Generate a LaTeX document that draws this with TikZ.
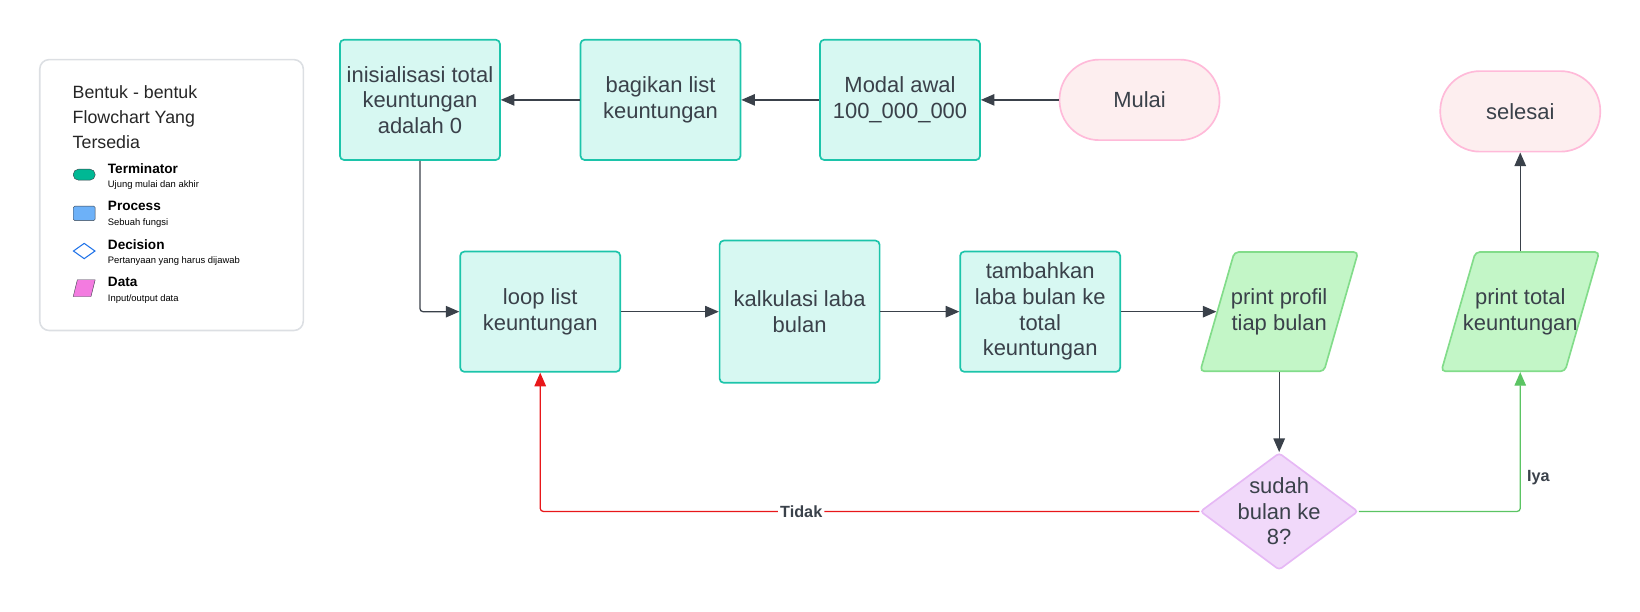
\documentclass[tikz,border=0pt]{standalone}
\usepackage{fontspec}
\setmainfont{Liberation Sans}
\usetikzlibrary{arrows.meta,shapes.geometric,positioning}

\definecolor{ink}{HTML}{3A414A}
\definecolor{procfill}{HTML}{D7F8F2}
\definecolor{procline}{HTML}{1CC4AA}
\definecolor{termfill}{HTML}{FDEEEF}
\definecolor{termline}{HTML}{FFBAD9}
\definecolor{datafill}{HTML}{C3F6C7}
\definecolor{dataline}{HTML}{82DC8A}
\definecolor{decfill}{HTML}{F1D9FA}
\definecolor{decline}{HTML}{E6B8F5}
\definecolor{nored}{HTML}{E8171A}
\definecolor{yesgreen}{HTML}{5BC463}
\definecolor{legframe}{HTML}{DCDFE3}
\definecolor{legteal}{HTML}{00B894}
\definecolor{legblue}{HTML}{6DB1F8}
\definecolor{legdec}{HTML}{1F72E8}
\definecolor{legpink}{HTML}{F37BE0}

\newcommand{\boxfont}{\fontsize{21}{24.5}\selectfont}
\newcommand{\titlefont}{\fontsize{17}{23.5}\selectfont}
\newcommand{\labfont}{\fontsize{13}{15}\selectfont\bfseries}
\newcommand{\subfont}{\fontsize{9}{11}\selectfont}

\begin{document}
\begin{tikzpicture}[x=1pt,y=-1pt,
    procbox/.style={draw=procline, fill=procfill, line width=1.6pt, rounded corners=4pt,
        minimum width=153pt, minimum height=115pt, inner sep=0pt, align=center, text=ink, font=\boxfont},
    termbox/.style={procbox, draw=termline, fill=termfill, rounded corners=38pt, minimum height=77pt},
    databox/.style={procbox, trapezium, trapezium left angle=74, trapezium right angle=106,
        trapezium stretches body=true, draw=dataline, fill=datafill, minimum width=151pt,
        minimum height=114pt, text height=57pt, text depth=57pt,
        label={[align=center, text=ink, font=\boxfont]center:#1}},
    decbox/.style={procbox, diamond, draw=decline, fill=decfill, rounded corners=3pt,
        minimum width=151pt, minimum height=112pt,
        label={[align=center, text=ink, font=\boxfont]center:#1}},
    flow/.style={draw=ink, line width=1.2pt, rounded corners=3pt, -{Triangle[length=13pt,width=11pt]}},
    noflow/.style={flow, draw=nored},
    yesflow/.style={flow, draw=yesgreen},
    answer/.style={font=\fontsize{15.5}{17}\selectfont\bfseries, text=ink, inner sep=2pt}]

    \useasboundingbox (0,0) rectangle (1568,585);   % picture frame

    %Legend box
    \node[draw=legframe, line width=1.5pt, rounded corners=9pt, minimum width=252pt,
          minimum height=259pt] (legend) at (164,186.5) {};
    \node[anchor=west, align=left, font=\titlefont, text=black!85] (legtitle) at (66,112)
          {Bentuk - bentuk\\Flowchart Yang\\Tersedia};
    \node[draw=ink, fill=legteal, rounded corners=5pt, minimum width=21pt,
          minimum height=10.5pt, inner sep=0pt] (icoterm) at (80.5,167) {};
    \node[draw=ink, fill=legblue, rounded corners=1.5pt, minimum width=21pt,
          minimum height=14pt, inner sep=0pt] (icoproc) at (80.5,204) {};
    \node[diamond, draw=legdec, line width=1pt, fill=white, minimum width=21pt, minimum height=15pt,
          inner sep=1pt] (icodec) at (80.5,240) {};
    \node[trapezium, trapezium left angle=76, trapezium right angle=104, trapezium stretches body=true,
          draw=ink, fill=legpink, minimum width=21pt, minimum height=16pt, text height=14pt,
          text depth=0pt, inner sep=1pt] (icodata) at (80.5,275.5) {};

    %Loop for legend names and descriptions
    \foreach \name/\desc [count=\i] in {Terminator/Ujung mulai dan akhir, Process/Sebuah fungsi,
                Decision/Pertanyaan yang harus dijawab, Data/{Input/output data}} {
        \pgfmathsetmacro {\yy}{161+(\i-1)*36.3}    %label y-position
        \node[anchor=west, font=\labfont, inner sep=0pt] (leg\i) at (103,\yy) {\name};
        \node[anchor=west, font=\subfont, inner sep=0pt] (legsub\i) at (103,\yy+16) {\desc};
    }

    %Top row (right to left)
    \node[termbox] (mulai)   at (1089.5,95.5) {Mulai};
    \node[procbox] (modal)   at (860.5,95.5)  {Modal awal\\100\_000\_000};
    \node[procbox] (bagikan) at (631.5,95.5)  {bagikan list\\keuntungan};
    \node[procbox] (init)    at (401.5,95.5)  {inisialisasi total\\keuntungan\\adalah 0};
    \node[termbox] (selesai) at (1453.5,106.5) {selesai};

    %Middle row
    \node[procbox] (loop)    at (516.5,298) {loop list\\keuntungan};
    \node[procbox, minimum height=136pt] (kalkulasi) at (764.5,298) {kalkulasi laba\\bulan};
    \node[procbox] (tambah)  at (994.5,298) {tambahkan\\laba bulan ke\\total\\keuntungan};
    \node[databox={print profil\\tiap bulan}] (profil) at (1223,298)  {};
    \node[databox={print total\\keuntungan}]  (ptotal) at (1453.5,298) {};

    %Decision
    \node[decbox={sudah\\bulan ke\\8?}] (cek) at (1223,489) {};

    %Connectors
    \draw[flow] (mulai.west) -- (modal.east);
    \draw[flow] (modal.west) -- (bagikan.east);
    \draw[flow] (bagikan.west) -- (init.east);
    \draw[flow] (init.south) |- (loop.west);
    \draw[flow] (loop.east) -- (kalkulasi.west);
    \draw[flow] (kalkulasi.east) -- (tambah.west);
    \draw[flow] (tambah.east) -- (profil.west);
    \draw[flow] (profil.south) -- (cek.north);
    \draw[noflow] (cek.west) -| node[pos=0.302, answer, fill=white] (tidak) {Tidak} (loop.south);
    \draw[yesflow] (cek.east) -| node[pos=0.623, answer, anchor=west, xshift=4pt] (iya) {Iya} (ptotal.south);
    \draw[flow] (ptotal.north) -- (selesai.south);
\end{tikzpicture}
\end{document}
